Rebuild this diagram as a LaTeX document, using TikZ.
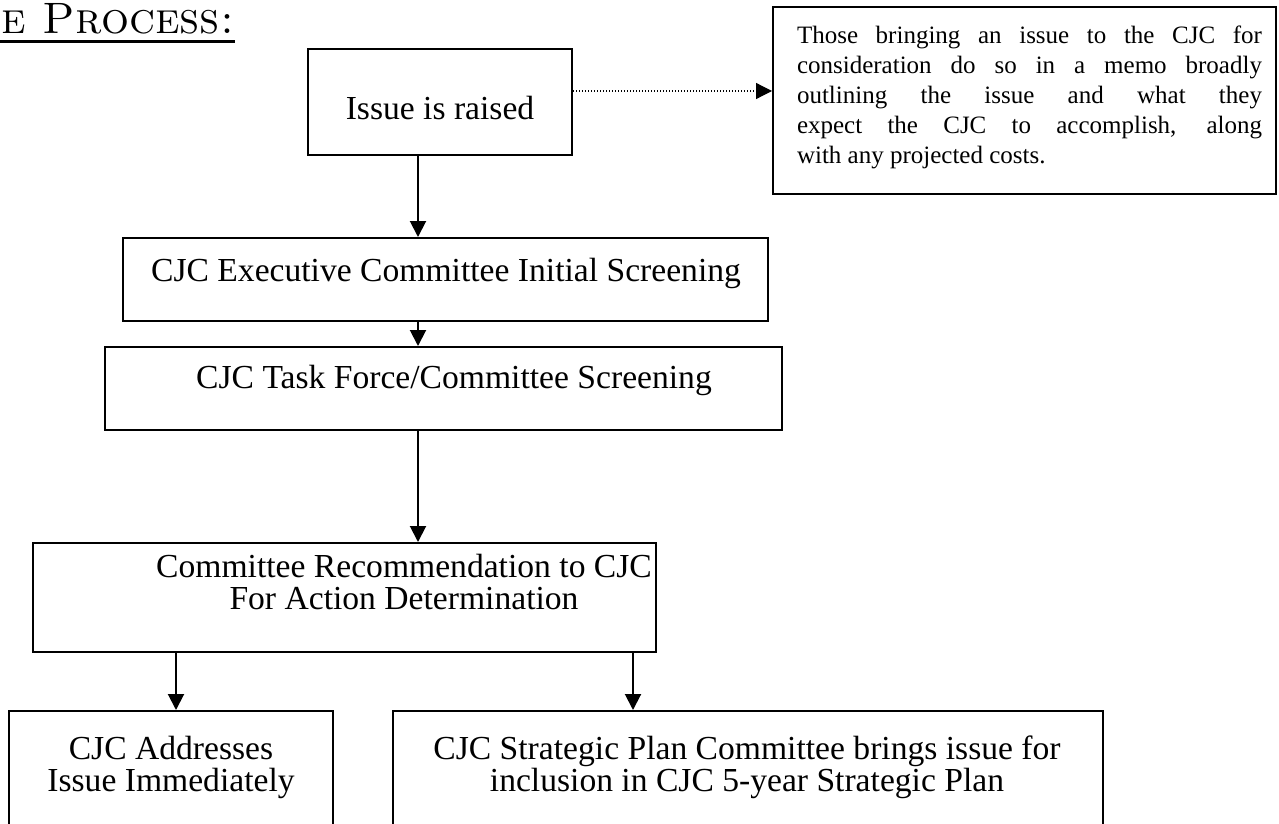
\documentclass[tikz,border=0pt]{standalone}
\usepackage{fontspec}
\setmainfont{Liberation Serif}
\usetikzlibrary{arrows.meta}
\tikzset{
  box/.style={draw, line width=1pt, inner sep=0pt},
  txt/.style={inner sep=0pt, align=center, font=\fontsize{16.8}{16}\selectfont},
}
\begin{document}
\begin{tikzpicture}[x=0.5pt, y=-0.5pt, line width=1pt, >={Triangle[length=8pt,width=8pt]}]
\useasboundingbox (0,0) rectangle (1279,824);
% title (cut at the left edge)
\node[anchor=base east, inner sep=0pt, font=\fontfamily{lmr}\fontsize{22}{24}\selectfont\scshape] (title) at (235,34) {The Process:};
\draw[line width=1.5pt] ([yshift=-4pt]title.base west) -- ([yshift=-4pt]title.base east);
% boxes
\node[box, minimum width=132pt, minimum height=53pt] (issue) at (440,102) {};
\node[box, minimum width=251.5pt, minimum height=93.5pt] (note) at (1024.5,100.5) {};
\node[box, minimum width=322.5pt, minimum height=41.5pt] (exec) at (445.5,279.5) {};
\node[box, minimum width=338.5pt, minimum height=41.5pt] (task) at (443.5,388.5) {};
\node[box, minimum width=311.5pt, minimum height=54.5pt] (rec) at (344.5,597.5) {};
\node[box, minimum width=162pt, minimum height=69.5pt] (addr) at (171,780.5) {};
\node[box, minimum width=355pt, minimum height=69.5pt] (plan) at (748,780.5) {};
% texts
\node[inner sep=0pt, text width=232.5pt, align=justify, font=\fontsize{12.5}{15}\selectfont] (notetxt) at (1029.5,97.5)
  {Those bringing an issue to the CJC for\linebreak consideration do so in a memo broadly\linebreak
   outlining the issue and what they\linebreak expect the CJC to accomplish, along\linebreak
   with any projected costs.};
\node[txt] (issuetxt) at (440,108) {Issue is raised};
\node[txt] (exectxt) at (446,273) {CJC Executive Committee Initial Screening};
\node[txt] (tasktxt) at (454,380) {CJC Task Force/Committee Screening};
\node[txt] (rectxt) at (404,582) {Committee Recommendation to CJC\\For Action Determination};
\node[txt] (addrtxt) at (171,767) {CJC Addresses\\Issue Immediately};
\node[txt] (plantxt) at (747,767) {CJC Strategic Plan Committee brings issue for\\inclusion in CJC 5-year Strategic Plan};
% arrows
\coordinate (spine) at (418,0);
\draw[->] (issue.south -| spine) -- (exec.north -| spine);
\draw[->] (exec.south -| spine) -- (task.north -| spine);
\draw[->] (task.south -| spine) -- (rec.north -| spine);
\draw[->] (rec.south -| 176,0) -- (addr.north -| 176,0);
\draw[->] (rec.south -| 633,0) -- (plan.north -| 633,0);
\draw[->, line width=0.6pt, dash pattern=on 0.6pt off 0.9pt] (issue.east |- 0,91) -- (note.west |- 0,91);
\end{tikzpicture}
\end{document}
